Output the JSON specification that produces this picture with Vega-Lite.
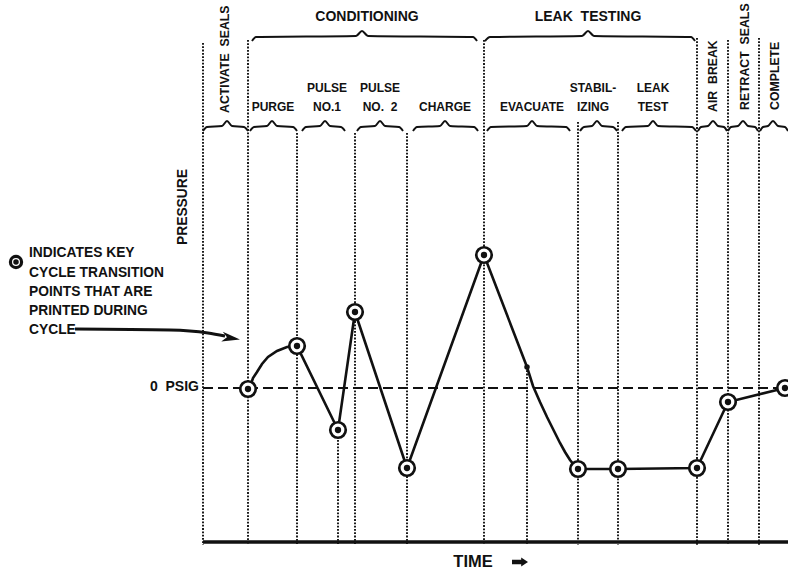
{
  "$schema": "https://vega.github.io/schema/vega-lite/v6.json",
  "width": 788,
  "height": 575,
  "autosize": "none",
  "padding": 0,
  "background": "white",
  "config": {
    "view": {"stroke": null},
    "text": {"font": "Liberation Sans, Arial, sans-serif", "fontWeight": "bold", "color": "#111111"}
  },
  "datasets": {
    "vlines": [
      {"t": 0, "p": 345, "p2": -157},
      {"t": 45, "p": 348, "p2": -157},
      {"t": 94, "p": 255, "p2": -157},
      {"t": 152, "p": 255, "p2": -157},
      {"t": 204, "p": 255, "p2": -157},
      {"t": 281, "p": 348, "p2": -157},
      {"t": 375, "p": 266, "p2": -157},
      {"t": 415, "p": 266, "p2": -157},
      {"t": 494, "p": 350, "p2": -157},
      {"t": 525, "p": 348, "p2": -157},
      {"t": 556, "p": 350, "p2": -157},
      {"t": 135, "p": -42, "p2": -157},
      {"t": 324, "p": 21, "p2": -157}
    ],
    "hlines": [
      {"kind": "zero", "t": 0, "t2": 585, "p": 0},
      {"kind": "base", "t": 0, "t2": 585, "p": -154}
    ],
    "braces": [
      {"b": "activate", "t": 0, "p": 257}, {"b": "activate", "t": 4, "p": 261}, {"b": "activate", "t": 19, "p": 262}, {"b": "activate", "t": 24, "p": 267}, {"b": "activate", "t": 29, "p": 262}, {"b": "activate", "t": 41, "p": 261}, {"b": "activate", "t": 45, "p": 257},
      {"b": "purge", "t": 47, "p": 257}, {"b": "purge", "t": 51, "p": 261}, {"b": "purge", "t": 64, "p": 262}, {"b": "purge", "t": 69, "p": 267}, {"b": "purge", "t": 74, "p": 262}, {"b": "purge", "t": 90, "p": 261}, {"b": "purge", "t": 94, "p": 257},
      {"b": "pulse1", "t": 99, "p": 257}, {"b": "pulse1", "t": 103, "p": 261}, {"b": "pulse1", "t": 117, "p": 262}, {"b": "pulse1", "t": 122, "p": 267}, {"b": "pulse1", "t": 127, "p": 262}, {"b": "pulse1", "t": 138, "p": 261}, {"b": "pulse1", "t": 142, "p": 257},
      {"b": "pulse2", "t": 154, "p": 257}, {"b": "pulse2", "t": 158, "p": 261}, {"b": "pulse2", "t": 172, "p": 262}, {"b": "pulse2", "t": 177, "p": 267}, {"b": "pulse2", "t": 182, "p": 262}, {"b": "pulse2", "t": 196, "p": 261}, {"b": "pulse2", "t": 200, "p": 257},
      {"b": "charge", "t": 210, "p": 257}, {"b": "charge", "t": 214, "p": 261}, {"b": "charge", "t": 237, "p": 262}, {"b": "charge", "t": 242, "p": 267}, {"b": "charge", "t": 247, "p": 262}, {"b": "charge", "t": 271, "p": 261}, {"b": "charge", "t": 275, "p": 257},
      {"b": "evacuate", "t": 284, "p": 257}, {"b": "evacuate", "t": 288, "p": 261}, {"b": "evacuate", "t": 324, "p": 262}, {"b": "evacuate", "t": 329, "p": 267}, {"b": "evacuate", "t": 334, "p": 262}, {"b": "evacuate", "t": 363, "p": 261}, {"b": "evacuate", "t": 367, "p": 257},
      {"b": "stabil", "t": 377, "p": 257}, {"b": "stabil", "t": 381, "p": 261}, {"b": "stabil", "t": 389, "p": 262}, {"b": "stabil", "t": 394, "p": 267}, {"b": "stabil", "t": 399, "p": 262}, {"b": "stabil", "t": 410, "p": 261}, {"b": "stabil", "t": 414, "p": 257},
      {"b": "leaktest", "t": 419, "p": 257}, {"b": "leaktest", "t": 423, "p": 261}, {"b": "leaktest", "t": 445, "p": 262}, {"b": "leaktest", "t": 450, "p": 267}, {"b": "leaktest", "t": 455, "p": 262}, {"b": "leaktest", "t": 489, "p": 261}, {"b": "leaktest", "t": 493, "p": 257},
      {"b": "airbreak", "t": 495, "p": 257}, {"b": "airbreak", "t": 498, "p": 261}, {"b": "airbreak", "t": 505, "p": 262}, {"b": "airbreak", "t": 510, "p": 267}, {"b": "airbreak", "t": 515, "p": 262}, {"b": "airbreak", "t": 521, "p": 261}, {"b": "airbreak", "t": 524, "p": 257},
      {"b": "retract", "t": 525, "p": 257}, {"b": "retract", "t": 528, "p": 261}, {"b": "retract", "t": 535, "p": 262}, {"b": "retract", "t": 540, "p": 267}, {"b": "retract", "t": 545, "p": 262}, {"b": "retract", "t": 552, "p": 261}, {"b": "retract", "t": 555, "p": 257},
      {"b": "complete", "t": 557, "p": 257}, {"b": "complete", "t": 560, "p": 261}, {"b": "complete", "t": 565, "p": 262}, {"b": "complete", "t": 570, "p": 267}, {"b": "complete", "t": 575, "p": 262}, {"b": "complete", "t": 582, "p": 261}, {"b": "complete", "t": 585, "p": 257},
      {"b": "conditioning", "t": 49, "p": 347}, {"b": "conditioning", "t": 53, "p": 351}, {"b": "conditioning", "t": 153, "p": 352}, {"b": "conditioning", "t": 159, "p": 357}, {"b": "conditioning", "t": 165, "p": 352}, {"b": "conditioning", "t": 270, "p": 351}, {"b": "conditioning", "t": 274, "p": 347},
      {"b": "leaktesting", "t": 282, "p": 347}, {"b": "leaktesting", "t": 287, "p": 351}, {"b": "leaktesting", "t": 379, "p": 352}, {"b": "leaktesting", "t": 385, "p": 357}, {"b": "leaktesting", "t": 391, "p": 352}, {"b": "leaktesting", "t": 488, "p": 351}, {"b": "leaktesting", "t": 492, "p": 347}
    ],
    "curve": [
      {"t": 45, "p": -1}, {"t": 47, "p": 1}, {"t": 50, "p": 10}, {"t": 54, "p": 16}, {"t": 59, "p": 24}, {"t": 65, "p": 31}, {"t": 74, "p": 37}, {"t": 84, "p": 41}, {"t": 94, "p": 42},
      {"t": 135, "p": -42}, {"t": 152, "p": 76}, {"t": 204, "p": -80}, {"t": 281, "p": 133},
      {"t": 324, "p": 21}, {"t": 330, "p": 2}, {"t": 337, "p": -14}, {"t": 344, "p": -29}, {"t": 351, "p": -43}, {"t": 357, "p": -55}, {"t": 362, "p": -64}, {"t": 367, "p": -72}, {"t": 371, "p": -77},
      {"t": 375, "p": -81}, {"t": 415, "p": -81}, {"t": 494, "p": -80}, {"t": 525, "p": -14}, {"t": 582, "p": 0}
    ],
    "keys": [
      {"t": 45, "p": -1}, {"t": 94, "p": 42}, {"t": 135, "p": -42}, {"t": 152, "p": 76}, {"t": 204, "p": -80},
      {"t": 281, "p": 133}, {"t": 375, "p": -81}, {"t": 415, "p": -81}, {"t": 494, "p": -80}, {"t": 525, "p": -14}, {"t": 582, "p": 0}
    ],
    "texts": [
      {"kind": "head", "t": 164, "p": 371, "label": "CONDITIONING"},
      {"kind": "head", "t": 385, "p": 371, "label": "LEAK\u00a0 TESTING"},
      {"kind": "sub", "t": 70, "p": 281, "label": "PURGE"},
      {"kind": "sub", "t": 124, "p": 300, "label": "PULSE"},
      {"kind": "sub", "t": 124, "p": 281, "label": "NO.1"},
      {"kind": "sub", "t": 177, "p": 300, "label": "PULSE"},
      {"kind": "sub", "t": 177, "p": 281, "label": "NO.\u00a0 2"},
      {"kind": "sub", "t": 242, "p": 281, "label": "CHARGE"},
      {"kind": "sub", "t": 329, "p": 281, "label": "EVACUATE"},
      {"kind": "sub", "t": 390, "p": 300, "label": "STABIL-"},
      {"kind": "sub", "t": 390, "p": 281, "label": "IZING"},
      {"kind": "sub", "t": 450, "p": 300, "label": "LEAK"},
      {"kind": "sub", "t": 450, "p": 281, "label": "TEST"},
      {"kind": "vert", "t": 22, "p": 275, "label": "ACTIVATE\u00a0 SEALS"},
      {"kind": "vert", "t": 510, "p": 276, "label": "AIR\u00a0 BREAK"},
      {"kind": "vert", "t": 542, "p": 278, "label": "RETRACT\u00a0 SEALS"},
      {"kind": "vert", "t": 572, "p": 278, "label": "COMPLETE"},
      {"kind": "axis", "t": -20, "p": 181, "label": "PRESSURE"},
      {"kind": "zero", "t": -4, "p": 1, "label": "0\u00a0 PSIG"},
      {"kind": "time", "t": 270, "p": -174, "label": "TIME"},
      {"kind": "note", "t": -174, "p": 135, "label": "INDICATES KEY"},
      {"kind": "note", "t": -174, "p": 115, "label": "CYCLE TRANSITION"},
      {"kind": "note", "t": -174, "p": 96, "label": "POINTS THAT ARE"},
      {"kind": "note", "t": -174, "p": 77, "label": "PRINTED DURING"},
      {"kind": "note", "t": -174, "p": 58, "label": "CYCLE"}
    ],
    "pointer": [
      {"t": -128, "p": 59}, {"t": -33, "p": 58}, {"t": 5, "p": 55}, {"t": 22, "p": 52}
    ],
    "pointerhead": [{"t": 28, "p": 50}],
    "timearrow": [{"t": 317, "p": -174}],
    "legendkey": [{"t": -187, "p": 126}],
    "smalldot": [{"t": 324, "p": 21}]
  },
  "encoding": {
    "x": {"field": "t", "type": "quantitative", "scale": {"domain": [-203, 585], "nice": false, "zero": false}, "axis": null},
    "y": {"field": "p", "type": "quantitative", "scale": {"domain": [-187, 388], "nice": false, "zero": false}, "axis": null}
  },
  "layer": [
    {
      "data": {"name": "vlines"},
      "mark": {"type": "rule", "color": "#111111", "strokeWidth": 1.9, "strokeDash": [1.8, 1.5]},
      "encoding": {"y2": {"field": "p2"}}
    },
    {
      "data": {"name": "hlines"},
      "transform": [{"filter": "datum.kind === 'zero'"}],
      "mark": {"type": "rule", "color": "#111111", "strokeWidth": 2.2, "strokeDash": [10, 5]},
      "encoding": {"x2": {"field": "t2"}}
    },
    {
      "data": {"name": "hlines"},
      "transform": [{"filter": "datum.kind === 'base'"}],
      "mark": {"type": "rule", "color": "#111111", "strokeWidth": 3.5},
      "encoding": {"x2": {"field": "t2"}}
    },
    {
      "data": {"name": "braces"},
      "mark": {"type": "line", "color": "#111111", "strokeWidth": 2, "interpolate": "monotone"},
      "encoding": {"detail": {"field": "b"}}
    },
    {
      "data": {"name": "curve"},
      "mark": {"type": "line", "color": "#111111", "strokeWidth": 2.6},
      "encoding": {}
    },
    {
      "data": {"name": "pointer"},
      "mark": {"type": "line", "color": "#111111", "strokeWidth": 3, "interpolate": "monotone"},
      "encoding": {}
    },
    {
      "data": {"name": "pointerhead"},
      "mark": {"type": "point", "shape": "M 1 0 L -1 -0.55 L -0.45 0 L -1 0.55 Z", "filled": true, "color": "#111111", "size": 330, "angle": 9, "opacity": 1},
      "encoding": {}
    },
    {
      "data": {"name": "keys"},
      "mark": {"type": "point", "shape": "circle", "filled": false, "fill": "white", "fillOpacity": 1, "stroke": "#111111", "strokeWidth": 2.7, "size": 240, "opacity": 1},
      "encoding": {}
    },
    {
      "data": {"name": "keys"},
      "mark": {"type": "point", "shape": "circle", "filled": true, "color": "#111111", "size": 40, "opacity": 1},
      "encoding": {}
    },
    {
      "data": {"name": "smalldot"},
      "mark": {"type": "point", "shape": "circle", "filled": true, "color": "#111111", "size": 30, "opacity": 1},
      "encoding": {}
    },
    {
      "data": {"name": "legendkey"},
      "mark": {"type": "point", "shape": "circle", "filled": false, "fill": "white", "fillOpacity": 1, "stroke": "#111111", "strokeWidth": 3.2, "size": 125, "opacity": 1},
      "encoding": {}
    },
    {
      "data": {"name": "legendkey"},
      "mark": {"type": "point", "shape": "circle", "filled": true, "color": "#111111", "size": 30, "opacity": 1},
      "encoding": {}
    },
    {
      "data": {"name": "texts"},
      "transform": [{"filter": "datum.kind === 'head'"}],
      "mark": {"type": "text", "fontSize": 14, "align": "center", "baseline": "middle"},
      "encoding": {"text": {"field": "label"}}
    },
    {
      "data": {"name": "texts"},
      "transform": [{"filter": "datum.kind === 'sub'"}],
      "mark": {"type": "text", "fontSize": 12, "align": "center", "baseline": "middle"},
      "encoding": {"text": {"field": "label"}}
    },
    {
      "data": {"name": "texts"},
      "transform": [{"filter": "datum.kind === 'vert'"}],
      "mark": {"type": "text", "fontSize": 12.3, "align": "left", "baseline": "middle", "angle": 270},
      "encoding": {"text": {"field": "label"}}
    },
    {
      "data": {"name": "texts"},
      "transform": [{"filter": "datum.kind === 'axis'"}],
      "mark": {"type": "text", "fontSize": 13.8, "align": "center", "baseline": "middle", "angle": 270},
      "encoding": {"text": {"field": "label"}}
    },
    {
      "data": {"name": "texts"},
      "transform": [{"filter": "datum.kind === 'zero'"}],
      "mark": {"type": "text", "fontSize": 14, "align": "right", "baseline": "middle"},
      "encoding": {"text": {"field": "label"}}
    },
    {
      "data": {"name": "texts"},
      "transform": [{"filter": "datum.kind === 'time'"}],
      "mark": {"type": "text", "fontSize": 16.5, "align": "center", "baseline": "middle"},
      "encoding": {"text": {"field": "label"}}
    },
    {
      "data": {"name": "texts"},
      "transform": [{"filter": "datum.kind === 'note'"}],
      "mark": {"type": "text", "fontSize": 13.8, "align": "left", "baseline": "middle"},
      "encoding": {"text": {"field": "label"}}
    },
    {
      "data": {"name": "timearrow"},
      "mark": {"type": "point", "shape": "M -1 -0.28 L 0.15 -0.28 L 0.15 -0.55 L 1 0 L 0.15 0.55 L 0.15 0.28 L -1 0.28 Z", "filled": true, "color": "#111111", "size": 256, "opacity": 1},
      "encoding": {}
    }
  ]
}
